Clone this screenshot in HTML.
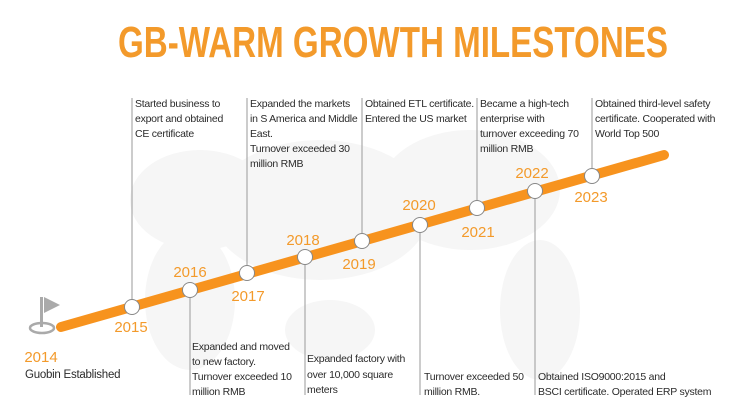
<!DOCTYPE html>
<html><head><meta charset="utf-8"><style>
html,body{margin:0;padding:0;background:#fff;}
svg{display:block;font-family:"Liberation Sans",sans-serif;}
.t{font-size:10.5px;fill:#2b2b2b;letter-spacing:-0.25px;}
.y{font-size:15px;fill:#f39a2b;}
</style></head><body>
<svg width="750" height="420" viewBox="0 0 750 420" xmlns="http://www.w3.org/2000/svg">
<g fill="#f6f6f6">
<ellipse cx="200" cy="200" rx="70" ry="50"/>
<ellipse cx="190" cy="300" rx="45" ry="70"/>
<ellipse cx="320" cy="210" rx="110" ry="70"/>
<ellipse cx="330" cy="330" rx="45" ry="30"/>
<ellipse cx="470" cy="190" rx="90" ry="60"/>
<ellipse cx="540" cy="310" rx="40" ry="70"/>
</g>
<text x="393" y="57" text-anchor="middle" font-size="44" font-weight="bold" fill="#f39a2b" textLength="550" lengthAdjust="spacingAndGlyphs">GB-WARM GROWTH MILESTONES</text>
<g stroke="#999" stroke-width="1">
<line x1="132" y1="98" x2="132" y2="307"/>
<line x1="247" y1="98" x2="247" y2="273"/>
<line x1="362" y1="98" x2="362" y2="241"/>
<line x1="477" y1="98" x2="477" y2="208"/>
<line x1="592" y1="98" x2="592" y2="176"/>
<line x1="190" y1="290" x2="190" y2="395"/>
<line x1="305" y1="257" x2="305" y2="395"/>
<line x1="420" y1="225" x2="420" y2="395"/>
<line x1="535" y1="191" x2="535" y2="395"/>
</g>
<line x1="61" y1="327" x2="664" y2="155" stroke="#f7931e" stroke-width="10" stroke-linecap="round"/>
<g fill="#fff" stroke="#888" stroke-width="1">
<circle cx="132" cy="307" r="7.5"/><circle cx="190" cy="290" r="7.5"/><circle cx="247" cy="273" r="7.5"/>
<circle cx="305" cy="257" r="7.5"/><circle cx="362" cy="241" r="7.5"/><circle cx="420" cy="225" r="7.5"/>
<circle cx="477" cy="208" r="7.5"/><circle cx="535" cy="191" r="7.5"/><circle cx="592" cy="176" r="7.5"/>
</g>
<g class="y" text-anchor="middle">
<text x="131" y="332">2015</text><text x="190" y="277">2016</text><text x="248" y="301">2017</text>
<text x="303" y="245">2018</text><text x="359" y="269">2019</text><text x="419" y="210">2020</text>
<text x="478" y="237">2021</text><text x="532" y="178">2022</text><text x="591" y="202">2023</text>
<text x="41" y="362">2014</text>
</g>
<g>
<rect x="40" y="297" width="3" height="30" fill="#aaa"/>
<polygon points="44,297 60,305 44,313" fill="#aaa"/>
<ellipse cx="42" cy="328" rx="12" ry="5" fill="none" stroke="#aaa" stroke-width="2.5"/>
</g>
<g class="t">
<text x="25" y="378" font-size="11.5">Guobin Established</text>
<text x="135" y="107">Started business to</text><text x="135" y="122">export and obtained</text><text x="135" y="137">CE certificate</text>
<text x="250" y="107">Expanded the markets</text><text x="250" y="122">in S America and Middle</text><text x="250" y="137">East.</text><text x="250" y="152">Turnover exceeded 30</text><text x="250" y="167">million RMB</text>
<text x="365" y="107">Obtained ETL certificate.</text><text x="365" y="122">Entered the US market</text>
<text x="480" y="107">Became a high-tech</text><text x="480" y="122">enterprise with</text><text x="480" y="137">turnover exceeding 70</text><text x="480" y="152">million RMB</text>
<text x="595" y="107">Obtained third-level safety</text><text x="595" y="122">certificate. Cooperated with</text><text x="595" y="137">World Top 500</text>
<text x="192" y="350">Expanded and moved</text><text x="192" y="365">to new factory.</text><text x="192" y="380">Turnover exceeded 10</text><text x="192" y="395">million RMB</text>
<text x="307" y="362">Expanded factory with</text><text x="307" y="378">over 10,000 square</text><text x="307" y="393">meters</text>
<text x="424" y="380">Turnover exceeded 50</text><text x="424" y="395">million RMB.</text>
<text x="538" y="380">Obtained ISO9000:2015 and</text><text x="538" y="395">BSCI certificate. Operated ERP system</text>
</g>
</svg>
</body></html>
